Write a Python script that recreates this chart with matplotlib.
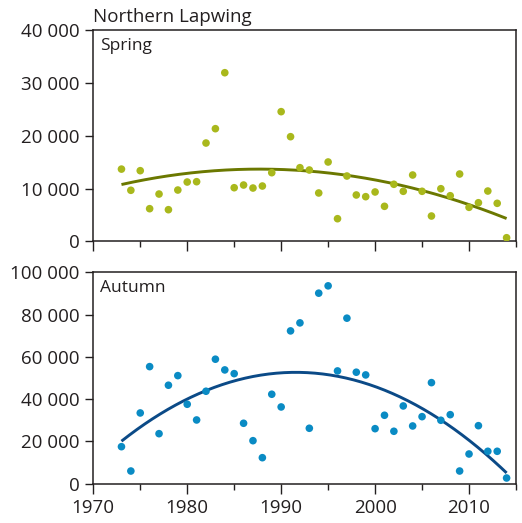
import numpy as np
import matplotlib
matplotlib.use("Agg")
import matplotlib.pyplot as plt
from matplotlib.ticker import FuncFormatter, MultipleLocator

# Northern Lapwing counts per year
years = list(range(1973, 2015))

spring = [13700, 9680, 13400, 6190, 8970, 6000, 9730, 11250, 11310, 18650,
          21370, 31990, 10170, 10680, 10110, 10490, 13020, 24600, 19850, 13970,
          13530, 9170, 15050, 4290, 12390, 8790, 8470, 9360, 6640, 10820,
          9490, 12580, 9490, 4800, 9980, 8650, 12770, 6450, 7320, 9540,
          7210, 680]

autumn = [17440, 5920, 33410, 55350, 23600, 46540, 51090, 37530, 30090, 43690,
          58860, 53790, 52030, 28530, 20280, 12230, 42270, 36250, 72270, 76060,
          26160, 90130, 93600, 53310, 78290, 52700, 51420, 25970, 32320, 24740,
          36730, 27250, 31660, 47770, 29950, 32600, 5920, 13980, 27390, 15260,
          15260, 2610]

panel_names = ["Spring", "Autumn"]
title = "Northern Lapwing"

DOT_COLORS = ["#a9b81c", "#0a8bc4"]
LINE_COLORS = ["#6b7800", "#0b4a87"]
EDGE = "#231f20"

plt.rcParams["font.family"] = ["Open Sans", "DejaVu Sans"]
plt.rcParams["text.color"] = EDGE


def fmt_thousands(v, pos):
    return f"{int(round(v)):,}".replace(",", " ")


def main():
    fig = plt.figure(figsize=(5.22, 5.23), dpi=100)
    ax1 = fig.add_axes([0.1787, 0.5386, 0.8098, 0.4031])
    ax2 = fig.add_axes([0.1787, 0.0755, 0.8098, 0.4038])

    x = np.array(years)
    xs = np.linspace(x.min(), x.max(), 200)

    for i, (ax, vals, ymax, ystep) in enumerate([(ax1, spring, 40000, 10000),
                                                  (ax2, autumn, 100000, 20000)]):
        vals = np.array(vals)
        # quadratic trend
        coef = np.polyfit(x, vals, 2)
        ax.plot(xs, np.polyval(coef, xs), color=LINE_COLORS[i], lw=2.1, zorder=2,
                solid_capstyle="butt")
        ax.scatter(x, vals, s=30, color=DOT_COLORS[i], edgecolors="none", zorder=3)

        ax.set_xlim(1970, 2015)
        ax.set_ylim(0, ymax)
        ax.xaxis.set_major_locator(MultipleLocator(10))
        ax.xaxis.set_minor_locator(MultipleLocator(5))
        ax.yaxis.set_major_locator(MultipleLocator(ystep))
        ax.yaxis.set_major_formatter(FuncFormatter(fmt_thousands))

        for sp in ax.spines.values():
            sp.set_color(EDGE)
            sp.set_linewidth(1.1)
        ax.tick_params(axis="y", length=5.5, width=1.0, color=EDGE, pad=4.5,
                       labelsize=13.5, labelcolor=EDGE)
        ax.tick_params(axis="x", which="major", length=7.5, width=1.0, color=EDGE,
                       pad=4, labelsize=13.5, labelcolor=EDGE)
        ax.tick_params(axis="x", which="minor", length=4.5, width=1.0, color=EDGE)

        ax.text(0.016, 0.965, panel_names[i], transform=ax.transAxes,
                ha="left", va="top", fontsize=12.5, color=EDGE)

    ax1.tick_params(axis="x", labelbottom=False)
    ax1.set_title(title, loc="left", fontsize=13.5, color=EDGE, pad=6)

    fig.savefig("out.png", dpi=100)
    plt.close(fig)


if __name__ == "__main__":
    main()
